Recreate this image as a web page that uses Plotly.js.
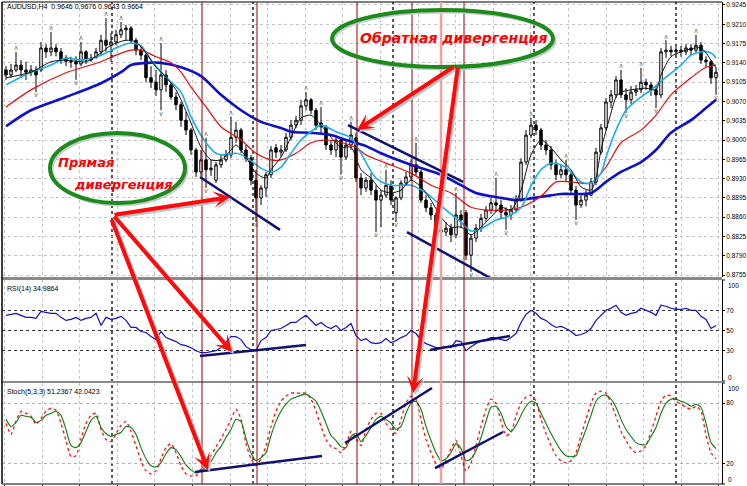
<!DOCTYPE html>
<html><head><meta charset="utf-8">
<script src="https://cdn.plot.ly/plotly-3.0.1.min.js"></script>
<style>html,body{margin:0;padding:0;background:#fff}#chart{width:747px;height:486px}</style>
</head><body><div id="chart"></div>
<script>
// ---- Price candles (AUDUSD H4) ----
const openP = [0.9127,0.9118,0.9127,0.9136,0.9127,0.9123,0.9127,0.9127,0.9167,0.9160,
0.9167,0.9160,0.9147,0.9143,0.9142,0.9138,0.9160,0.9145,0.9149,0.9160,
0.9181,0.9172,0.9178,0.9191,0.9200,0.9203,0.9181,0.9163,0.9154,0.9113,
0.9105,0.9091,0.9118,0.9100,0.9078,0.9064,0.9036,0.9018,0.8982,0.8942,
0.8964,0.8946,0.8927,0.8955,0.8964,0.8973,0.9005,0.9018,0.8982,0.8967,
0.8927,0.8895,0.8913,0.8937,0.8986,0.8978,0.8982,0.9005,0.9027,0.9036,
0.9062,0.9073,0.9054,0.9031,0.9024,0.8991,0.8982,0.9000,0.8969,0.8991,
0.9004,0.8931,0.8913,0.8927,0.8909,0.8891,0.8900,0.8918,0.8868,0.8895,
0.8922,0.8933,0.8955,0.8942,0.8891,0.8877,0.8864,0.8837,0.8833,0.8840,
0.8828,0.8864,0.8868,0.8791,0.8822,0.8840,0.8858,0.8873,0.8886,0.8882,
0.8869,0.8864,0.8873,0.8891,0.8960,0.9009,0.9027,0.9018,0.8991,0.8982,
0.8955,0.8937,0.8946,0.8937,0.8909,0.8882,0.8891,0.8900,0.8924,0.8978,
0.9022,0.9069,0.9082,0.9109,0.9082,0.9073,0.9087,0.9091,0.9105,0.9100,
0.9091,0.9082,0.9160,0.9163,0.9160,0.9163,0.9160,0.9167,0.9163,0.9172,
0.9145,0.9142,0.9113];
const highP = [0.9134,0.9138,0.9160,0.9145,0.9142,0.9136,0.9134,0.9178,0.9174,0.9196,
0.9174,0.9167,0.9154,0.9151,0.9152,0.9178,0.9163,0.9156,0.9167,0.9191,
0.9221,0.9194,0.9200,0.9214,0.9209,0.9207,0.9185,0.9172,0.9160,0.9134,
0.9127,0.9176,0.9127,0.9105,0.9087,0.9069,0.9051,0.9022,0.8986,0.8982,
0.9004,0.8964,0.8960,0.8973,0.8982,0.9042,0.9033,0.9022,0.8991,0.8973,
0.8946,0.8918,0.8942,0.8989,0.8993,0.8991,0.9013,0.9036,0.9044,0.9073,
0.9087,0.9076,0.9058,0.9060,0.9027,0.9000,0.9009,0.9004,0.9000,0.9033,
0.9013,0.8940,0.8933,0.8940,0.8918,0.8909,0.8946,0.8927,0.8898,0.8927,
0.8942,0.8964,0.8995,0.8946,0.8900,0.8886,0.8869,0.8846,0.8851,0.8848,
0.8904,0.8873,0.8873,0.8829,0.8848,0.8866,0.8880,0.8895,0.8931,0.8891,
0.8878,0.8882,0.8900,0.8967,0.9018,0.9040,0.9036,0.9022,0.9000,0.8989,
0.8964,0.8955,0.8964,0.8942,0.8917,0.8900,0.8909,0.8931,0.8986,0.9029,
0.9076,0.9091,0.9116,0.9127,0.9094,0.9098,0.9100,0.9131,0.9111,0.9105,
0.9098,0.9167,0.9181,0.9171,0.9171,0.9171,0.9174,0.9174,0.9191,0.9178,
0.9152,0.9145,0.9132];
const lowP = [0.9109,0.9113,0.9123,0.9113,0.9109,0.9116,0.9087,0.9123,0.9149,0.9152,
0.9152,0.9138,0.9134,0.9131,0.9109,0.9134,0.9138,0.9142,0.9149,0.9152,
0.9160,0.9142,0.9172,0.9185,0.9181,0.9174,0.9154,0.9145,0.9105,0.9094,
0.9080,0.9054,0.9087,0.9073,0.9054,0.9024,0.9009,0.8973,0.8933,0.8935,
0.8913,0.8935,0.8922,0.8949,0.8960,0.8967,0.8995,0.8976,0.8960,0.8918,
0.8851,0.8882,0.8897,0.8931,0.8967,0.8969,0.8978,0.9000,0.9022,0.9027,
0.9054,0.9047,0.9018,0.9013,0.8982,0.8973,0.8969,0.8937,0.8964,0.8982,
0.8924,0.8900,0.8906,0.8900,0.8833,0.8842,0.8895,0.8882,0.8851,0.8891,
0.8917,0.8927,0.8935,0.8886,0.8869,0.8855,0.8824,0.8819,0.8826,0.8815,
0.8822,0.8840,0.8782,0.8761,0.8815,0.8833,0.8851,0.8866,0.8869,0.8858,
0.8837,0.8855,0.8868,0.8888,0.8955,0.9004,0.9009,0.8982,0.8973,0.8946,
0.8927,0.8931,0.8924,0.8902,0.8855,0.8877,0.8880,0.8898,0.8918,0.8973,
0.9018,0.9058,0.9076,0.9076,0.9049,0.9065,0.9080,0.9085,0.9091,0.9080,
0.9058,0.9076,0.9149,0.9152,0.9154,0.9151,0.9154,0.9154,0.9158,0.9138,
0.9132,0.9102,0.9082];
const closeP = [0.9118,0.9127,0.9136,0.9127,0.9123,0.9127,0.9118,0.9167,0.9160,0.9167,
0.9160,0.9145,0.9143,0.9142,0.9138,0.9160,0.9145,0.9149,0.9160,0.9181,
0.9172,0.9178,0.9191,0.9200,0.9203,0.9181,0.9163,0.9154,0.9113,0.9105,
0.9091,0.9118,0.9100,0.9078,0.9064,0.9036,0.9018,0.8982,0.8942,0.8964,
0.8946,0.8949,0.8955,0.8964,0.8973,0.9005,0.9018,0.8982,0.8967,0.8927,
0.8895,0.8913,0.8937,0.8982,0.8978,0.8982,0.9005,0.9027,0.9036,0.9062,
0.9073,0.9054,0.9027,0.9024,0.8991,0.8982,0.9000,0.8969,0.8991,0.9009,
0.8931,0.8913,0.8927,0.8909,0.8891,0.8900,0.8918,0.8891,0.8895,0.8922,
0.8933,0.8955,0.8942,0.8891,0.8877,0.8864,0.8837,0.8833,0.8840,0.8828,
0.8864,0.8855,0.8791,0.8822,0.8840,0.8858,0.8873,0.8886,0.8882,0.8869,
0.8864,0.8873,0.8891,0.8960,0.9009,0.9027,0.9018,0.8991,0.8982,0.8955,
0.8937,0.8946,0.8937,0.8909,0.8882,0.8891,0.8900,0.8924,0.8978,0.9022,
0.9069,0.9082,0.9109,0.9082,0.9073,0.9087,0.9091,0.9105,0.9100,0.9091,
0.9082,0.9160,0.9163,0.9160,0.9163,0.9160,0.9167,0.9163,0.9172,0.9145,
0.9142,0.9113,0.9123];

// ---- Fractals (bar indices) ----
const fractalUp = [2,9,15,20,23,31,40,45,60,63,69,76,82,90,98,105,112,123,127,132,138];
const fractalDown = [6,14,31,40,50,67,74,78,93,100,114,124,130,142];

// ---- Moving averages (bar index, value) ----
const maBlueX = [0,5,12,19,23,25,28,31,35,39,43,47,51,55,57,61,65,68,72,75,81,87,91,94,99,102,107,111,117,120,123,127,130,133,137,140,142];
const maBlueY = [0.9025,0.9054,0.9078,0.9103,0.9123,0.9136,0.9140,0.9140,0.9132,0.9116,0.9082,0.9054,0.9033,0.9022,0.9015,0.9013,0.9009,0.9000,0.8989,0.8976,0.8955,0.8937,0.8918,0.8904,0.8895,0.8891,0.8897,0.8902,0.8904,0.8924,0.8942,0.8960,0.8982,0.9013,0.9036,0.9058,0.9073];
const maRedX = [0,5,12,19,22,25,27,30,33,35,37,40,43,47,50,53,55,58,61,64,67,70,72,76,81,85,89,93,96,100,103,107,110,113,117,120,123,127,130,133,137,140,142];
const maRedY = [0.9060,0.9091,0.9122,0.9142,0.9154,0.9163,0.9163,0.9151,0.9140,0.9123,0.9096,0.9060,0.9024,0.9000,0.8976,0.8964,0.8964,0.8976,0.8995,0.9000,0.8996,0.8986,0.8973,0.8958,0.8940,0.8918,0.8904,0.8878,0.8873,0.8873,0.8878,0.8898,0.8924,0.8924,0.8922,0.8951,0.8995,0.9018,0.9045,0.9082,0.9113,0.9132,0.9136];
const maCyanX = [0,5,9,12,15,19,22,25,27,29,32,35,37,40,42,44,46,48,51,53,55,57,59,61,63,66,69,71,74,77,81,84,88,91,93,95,98,100,103,105,107,109,111,113,115,117,119,120,122,124,127,129,132,135,137,139,141,142];
const maCyanY = [0.9100,0.9123,0.9136,0.9149,0.9145,0.9154,0.9167,0.9176,0.9171,0.9145,0.9114,0.9087,0.9042,0.8995,0.8976,0.8973,0.8976,0.8969,0.8949,0.8942,0.8951,0.8976,0.9000,0.9015,0.9027,0.9015,0.9004,0.8976,0.8931,0.8918,0.8918,0.8904,0.8873,0.8851,0.8835,0.8839,0.8855,0.8860,0.8877,0.8917,0.8946,0.8958,0.8955,0.8942,0.8924,0.8922,0.8940,0.8969,0.9018,0.9054,0.9078,0.9091,0.9114,0.9136,0.9154,0.9160,0.9158,0.9149];
const maBlackX = [0,5,9,12,16,19,21,24,26,28,30,32,34,35,37,39,41,43,45,46,48,50,52,53,55,57,59,61,63,65,67,69,71,73,75,77,79,81,83,85,87,89,91,93,95,97,99,101,103,105,107,109,111,113,115,117,118,119,121,122,123,125,128,130,131,133,136,139,141,142];
const maBlackY = [0.9113,0.9123,0.9142,0.9145,0.9142,0.9158,0.9172,0.9181,0.9178,0.9158,0.9132,0.9114,0.9091,0.9073,0.9031,0.8987,0.8964,0.8964,0.8982,0.8991,0.8969,0.8940,0.8931,0.8946,0.8969,0.9005,0.9040,0.9045,0.9027,0.9005,0.8987,0.8987,0.8946,0.8931,0.8909,0.8904,0.8909,0.8927,0.8915,0.8891,0.8860,0.8842,0.8842,0.8828,0.8842,0.8860,0.8878,0.8873,0.8909,0.8973,0.9000,0.8986,0.8964,0.8946,0.8915,0.8909,0.8931,0.8982,0.9049,0.9078,0.9087,0.9091,0.9094,0.9091,0.9118,0.9151,0.9163,0.9167,0.9145,0.9131];

// ---- RSI(14) ----
const rsi = [65,66,67,65,63,63,62,69,68,67,
67,63,60,61,63,60,62,63,67,55,
63,61,62,64,60,53,53,49,48,44,
41,49,43,41,39,36,35,33,30,28,
28,29,30,33,38,44,44,41,34,31,
30,40,43,50,51,52,55,58,58,62,
65,60,55,58,54,52,55,50,53,57,
45,40,42,38,37,38,42,38,40,43,
45,50,47,40,37,35,33,33,34,33,
40,39,30,34,37,40,41,43,43,41,
40,43,47,58,66,70,67,62,60,56,
53,54,52,49,45,46,48,52,60,65,
70,72,75,68,65,67,68,72,70,68,
65,75,74,72,71,71,72,70,70,64,
61,52,55];

// ---- Stochastic(5,3,3) ----
const stochMain = [64,57,61,68,67,66,61,63,68,70,
72,68,54,38,36,41,52,63,67,56,
50,47,49,51,57,56,49,36,25,18,
17,21,30,36,34,27,19,14,11,13,
17,22,31,37,46,54,64,62,45,31,
23,26,31,48,62,72,79,84,86,88,
89,86,82,72,60,48,43,37,36,47,
50,42,48,56,64,67,64,60,54,57,
70,80,82,74,57,43,31,23,25,31,
40,35,23,25,33,46,62,76,77,70,
57,52,58,68,77,82,80,70,60,50,
41,33,28,27,28,41,54,68,82,87,
88,84,76,64,54,47,41,39,39,47,
56,70,80,84,84,82,80,77,79,76,
60,41,35];
const stochSignal = [60,49,62,72,70,67,59,65,72,75,
73,60,43,27,28,45,60,68,70,54,
44,42,50,58,62,52,38,23,13,10,
13,25,36,40,31,18,10,8,8,15,
21,28,37,45,54,64,74,64,40,25,
18,25,38,57,72,82,87,90,90,90,
90,84,72,57,44,37,35,31,38,52,
45,38,54,64,70,70,60,54,50,64,
80,87,84,64,44,31,20,15,23,35,
43,28,13,21,38,57,74,84,80,62,
48,51,67,80,86,88,82,64,50,38,
28,23,21,23,31,48,64,80,90,92,
90,80,67,52,43,35,31,33,38,52,
67,82,88,87,82,79,76,74,77,72,
48,31,25];

// ---- Axis ticks ----
const priceTicks = [0.8755,0.8790,0.8825,0.8860,0.8895,0.8930,0.8965,0.9000,0.9035,0.9070,0.9105,0.9140,0.9175,0.9210,0.9245];
const rsiLevels = [30,50,70];
const rsiEdgeLabels = ['100','0'];
const stochLevels = [20,80];
const stochEdgeLabels = ['100','0'];

// ---- Chart markings (bar index positions) ----
const signalBars = [39.2,50.2,70.2,81.2,91.6];
const signalBarLight = [87];
const weekSeparators = [21.2,49.4,77.4,105.6,134];
const priceDivLines = [[38.8,0.8933,54.8,0.8837],[68.4,0.9027,91.4,0.8924],[80.2,0.8833,96.8,0.8750]];
const rsiDivLines = [[38.8,24.8,60,35.6],[84.8,30.7,100.8,44.6]];
const stochDivLines = [[37.8,11.9,63.2,27.7],[67.8,40.6,85.2,95],[85.8,15.8,99.4,51.5]];

// ---- Layout geometry (pixels) ----
const W = 747, H = 486, ML = 2, MR = 25, MT = 2, MB = 2;
const PW = W - ML - MR, PH = H - MT - MB;
const px = x => (x - ML) / PW;
const py = y => 1 - (y - MT) / PH;

const idx = openP.map((_, i) => i);
const FONT = 'Liberation Sans, Arial, sans-serif';
const TICKSIZE = 6.5;

const traces = [
  {type:'candlestick', x: idx, open: openP, high: highP, low: lowP, close: closeP,
   xaxis:'x', yaxis:'y', whiskerwidth: 0,
   increasing:{line:{color:'#000', width:1}, fillcolor:'#ffffff'},
   decreasing:{line:{color:'#000', width:1}, fillcolor:'#000000'},
   hoverinfo:'skip', showlegend:false},
  {type:'scatter', mode:'text', x: fractalUp, y: fractalUp.map(i => highP[i]), text: fractalUp.map(() => '∧'),
   textposition:'top center', textfont:{size:7, color:'#707070', family:'DejaVu Sans'}, xaxis:'x', yaxis:'y', hoverinfo:'skip', showlegend:false},
  {type:'scatter', mode:'text', x: fractalDown, y: fractalDown.map(i => lowP[i]), text: fractalDown.map(() => '∨'),
   textposition:'bottom center', textfont:{size:7, color:'#707070', family:'DejaVu Sans'}, xaxis:'x', yaxis:'y', hoverinfo:'skip', showlegend:false},
  {type:'scatter', mode:'lines', x: maBlueX, y: maBlueY, line:{color:'#1010c8', width:2.6, shape:'spline', smoothing:0.8}, xaxis:'x', yaxis:'y', hoverinfo:'skip', showlegend:false},
  {type:'scatter', mode:'lines', x: maRedX, y: maRedY, line:{color:'#e01010', width:1.2, shape:'spline', smoothing:0.8}, xaxis:'x', yaxis:'y', hoverinfo:'skip', showlegend:false},
  {type:'scatter', mode:'lines', x: maCyanX, y: maCyanY, line:{color:'#1aaee8', width:1.6, shape:'spline', smoothing:0.8}, xaxis:'x', yaxis:'y', hoverinfo:'skip', showlegend:false},
  {type:'scatter', mode:'lines', x: maBlackX, y: maBlackY, line:{color:'#111111', width:1, shape:'spline', smoothing:0.7}, xaxis:'x', yaxis:'y', hoverinfo:'skip', showlegend:false},
  {type:'scatter', mode:'lines', x: idx, y: rsi, line:{color:'#1010c0', width:1.2}, xaxis:'x', yaxis:'y2', hoverinfo:'skip', showlegend:false},
  {type:'scatter', mode:'lines', x: idx, y: stochSignal, line:{color:'#ff1010', width:1.3, dash:'dot', shape:'spline', smoothing:0.6}, xaxis:'x', yaxis:'y3', hoverinfo:'skip', showlegend:false},
  {type:'scatter', mode:'lines', x: idx, y: stochMain, line:{color:'#107810', width:1.1, shape:'spline', smoothing:0.6}, xaxis:'x', yaxis:'y3', hoverinfo:'skip', showlegend:false}
];

const shapes = [];
// panel separators / borders
shapes.push({type:'rect', xref:'paper', yref:'paper', x0:0, x1:1, y0:py(280), y1:py(277), fillcolor:'#8a8a8a', line:{width:0}, layer:'above'});
shapes.push({type:'rect', xref:'paper', yref:'paper', x0:0, x1:1, y0:py(383), y1:py(381), fillcolor:'#8a8a8a', line:{width:0}, layer:'above'});
shapes.push({type:'line', xref:'paper', yref:'paper', x0:0, x1:0, y0:0, y1:1, line:{color:'#000', width:1.5}});
shapes.push({type:'line', xref:'paper', yref:'paper', x0:0, x1:1, y0:1, y1:1, line:{color:'#000', width:1}});
shapes.push({type:'line', xref:'paper', yref:'paper', x0:0, x1:1, y0:0, y1:0, line:{color:'#555', width:1.5}});
// RSI/Stoch edge tick marks
[py(280), py(381), py(383), 0].forEach(v => shapes.push({type:'line', xref:'paper', yref:'paper', x0:1, x1:px(725), y0:v, y1:v, line:{color:'#000', width:1}}));
// week separators
weekSeparators.forEach(b => shapes.push({type:'line', xref:'x', yref:'paper', x0:b, x1:b, y0:0, y1:1, line:{color:'#222', width:1.5, dash:'dot'}, layer:'below'}));
// signal bar lines
signalBarLight.forEach(b => shapes.push({type:'line', xref:'x', yref:'paper', x0:b, x1:b, y0:0, y1:1, line:{color:'#f3a0a0', width:2.5}}));
signalBars.forEach(b => shapes.push({type:'line', xref:'x', yref:'paper', x0:b, x1:b, y0:0, y1:1, line:{color:'#9a0000', width:1}}));
// divergence lines
priceDivLines.forEach(l => shapes.push({type:'line', xref:'x', yref:'y', x0:l[0], y0:l[1], x1:l[2], y1:l[3], line:{color:'#101070', width:2.5}}));
rsiDivLines.forEach(l => shapes.push({type:'line', xref:'x', yref:'y2', x0:l[0], y0:l[1], x1:l[2], y1:l[3], line:{color:'#101070', width:2.5}}));
stochDivLines.forEach(l => shapes.push({type:'line', xref:'x', yref:'y3', x0:l[0], y0:l[1], x1:l[2], y1:l[3], line:{color:'#101070', width:2.5}}));
// ellipses (shadow + green)
const ellipses = [[50,133,185,203],[332,10,553,67]];
ellipses.forEach(e => {
  shapes.push({type:'circle', xref:'paper', yref:'paper', x0:px(e[0]+2), x1:px(e[2]+2), y0:py(e[3]+2), y1:py(e[1]+2), line:{color:'#c4cccc', width:3}});
  shapes.push({type:'circle', xref:'paper', yref:'paper', x0:px(e[0]), x1:px(e[2]), y0:py(e[3]), y1:py(e[1]), line:{color:'#1c8a1c', width:4}});
});

const annotations = [];
const hdr = (x, y, t) => annotations.push({xref:'paper', yref:'paper', x:px(x), y:py(y), text:t, showarrow:false, xanchor:'left', yanchor:'top', font:{size:7, color:'#000', family:FONT}});
hdr(5, 1, 'AUDUSD,H4  0.9646 0.9676 0.9643 0.9664');
hdr(5, 283, 'RSI(14) 34.9864');
hdr(5, 386, 'Stoch(5,3,3) 51.2367 42.0423');

// edge labels of indicator windows (MetaTrader draws them inside the window)
const edge = (y, t) => annotations.push({xref:'paper', yref:'paper', x:px(726), y:py(y), text:t, showarrow:false, xanchor:'left', yanchor:'middle', font:{size:TICKSIZE, color:'#000', family:FONT}});
edge(285, rsiEdgeLabels[0]); edge(377, rsiEdgeLabels[1]);
edge(388, stochEdgeLabels[0]); edge(479, stochEdgeLabels[1]);

const txt = (x, y, t, s) => annotations.push({xref:'paper', yref:'paper', x:px(x), y:py(y), text:'<b><i>'+t+'</i></b>', showarrow:false, xanchor:'center', yanchor:'middle', font:{size:s, color:'#ff0000', family:'DejaVu Sans, sans-serif'}});
txt(86, 163, 'Прямая', 13);
txt(123, 184, 'дивергенция', 13);
txt(453, 38, 'Обратная дивергенция', 14);

const arrows = [[113,215,230,197],[113,215,232,352],[111,218,208,470],[455,66,357,130],[458,66,413,393]];
arrows.forEach(a => {
  annotations.push({xref:'paper', yref:'paper', x:px(a[2]+2), y:py(a[3]+2), ax:a[0]-a[2], ay:a[1]-a[3], text:'', showarrow:true, arrowcolor:'#b8c6c8', arrowwidth:4, arrowhead:3, arrowsize:0.7});
});
arrows.forEach(a => {
  annotations.push({xref:'paper', yref:'paper', x:px(a[2]), y:py(a[3]), ax:a[0]-a[2], ay:a[1]-a[3], text:'', showarrow:true, arrowcolor:'#ff0a0a', arrowwidth:4, arrowhead:3, arrowsize:0.7});
});

const yCommon = {side:'right', anchor:'x', showline:true, linecolor:'#000', linewidth:1, ticks:'outside', ticklen:2, tickcolor:'#000',
  tickfont:{size:TICKSIZE, color:'#000', family:FONT}, zeroline:false, showgrid:true, griddash:'dot', fixedrange:true};

const layout = {
  width: W, height: H,
  margin:{l:ML, r:MR, t:MT, b:MB, pad:0},
  paper_bgcolor:'#ffffff', plot_bgcolor:'#ffffff',
  showlegend:false,
  font:{family:FONT},
  xaxis:{range:[-0.8,143.2], anchor:'y3', showgrid:true, gridcolor:'#c4c4c4', griddash:'dot', tick0:7.2, dtick:7.52,
    showticklabels:false, ticks:'outside', ticklen:2, tickcolor:'#000', zeroline:false, showline:false, rangeslider:{visible:false}, fixedrange:true},
  yaxis: Object.assign({}, yCommon, {domain:[py(277), 1], range:[0.87515, 0.92504], tickvals: priceTicks, tickformat:'.4f', gridcolor:'#c4c4c4'}),
  yaxis2: Object.assign({}, yCommon, {domain:[py(381), py(280)], range:[0, 100], tickvals: rsiLevels, gridcolor:'#333333'}),
  yaxis3: Object.assign({}, yCommon, {domain:[0, py(383)], range:[0, 100], tickvals: stochLevels, gridcolor:'#b0b0b0'}),
  shapes: shapes,
  annotations: annotations
};

Plotly.newPlot('chart', traces, layout, {displayModeBar:false, staticPlot:true});
</script></body></html>
